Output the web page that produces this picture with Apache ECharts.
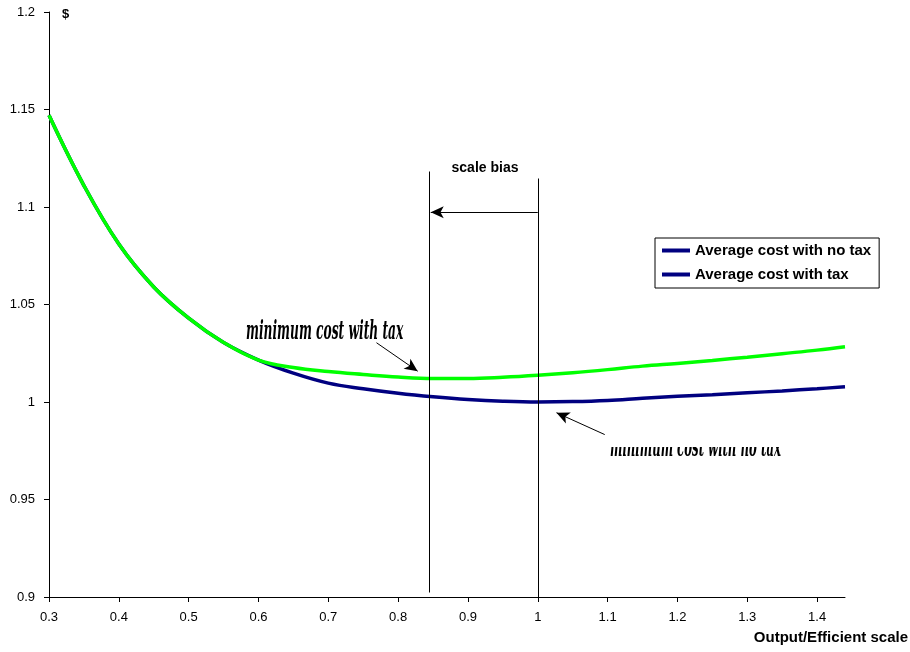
<!DOCTYPE html>
<html>
<head>
<meta charset="utf-8">
<script src="https://cdn.jsdelivr.net/npm/echarts@6/dist/echarts.min.js"></script>
<style>
  html, body { margin: 0; padding: 0; background: #fff; }
  #chart { width: 910px; height: 652px; }
</style>
</head>
<body>
<div id="chart"></div>
<script>
// values
var outputs = [0.3, 0.35, 0.4, 0.45, 0.5, 0.55, 0.6, 0.65, 0.7, 0.75, 0.8, 0.85, 0.9, 0.95,
               1.0, 1.05, 1.1, 1.15, 1.2, 1.25, 1.3, 1.35, 1.4, 1.44];
var costNoTax = [1.147, 1.111, 1.081, 1.059, 1.043, 1.0305, 1.0215, 1.0148, 1.0097, 1.0068, 1.0045, 1.0027, 1.0013, 1.0004,
                 1.0, 1.0002, 1.0008, 1.0019, 1.0029, 1.0037, 1.0047, 1.0057, 1.0068, 1.0078];
var costWithTax = [1.147, 1.111, 1.081, 1.059, 1.043, 1.0305, 1.0215, 1.0177, 1.0156, 1.0141, 1.0128, 1.0121, 1.0121, 1.0127,
                   1.0137, 1.015, 1.0166, 1.0184, 1.0198, 1.0213, 1.023, 1.0248, 1.0266, 1.0283];
var xTicks = [0.3, 0.4, 0.5, 0.6, 0.7, 0.8, 0.9, 1.0, 1.1, 1.2, 1.3, 1.4];

// annotation lines in data units
var biasLeft = 0.845, biasRight = 1.0;
var biasArrowY = 1.0973;

function pairs(xs, ys) {
    return xs.map(function (x, i) { return [x, ys[i]]; });
}

var chart = echarts.init(document.getElementById('chart'));
var thinLine = { color: '#000', width: 1, type: 'solid' };
var head = { symbol: 'arrow', symbolSize: [9, 13] };
var noteFont = 'italic bold 26px "DejaVu Serif"';

chart.setOption({
    animation: false,
    backgroundColor: '#fff',
    grid: { left: 49, right: 65, top: 12, bottom: 55 },
    legend: {
        orient: 'vertical',
        left: 655,
        top: 238,
        padding: [4, 8, 5, 7],
        itemGap: 7,
        itemWidth: 28,
        itemHeight: 4,
        icon: 'rect',
        borderColor: '#000',
        borderWidth: 1,
        textStyle: { fontFamily: 'Liberation Sans', fontWeight: 'bold', fontSize: 15, color: '#000', lineHeight: 17 },
        data: [
            { name: 'Average cost with no tax', itemStyle: { color: '#000080' } },
            { name: 'Average cost with tax', itemStyle: { color: '#000080' } }
        ]
    },
    xAxis: {
        type: 'value',
        min: 0.3,
        max: 1.44,
        interval: 0.1,
        splitLine: { show: false },
        axisLine: { lineStyle: { color: '#000', width: 1 } },
        axisTick: { customValues: xTicks, length: 5, lineStyle: { color: '#000' } },
        axisLabel: { customValues: xTicks, margin: 14, color: '#000', fontFamily: 'Liberation Sans', fontSize: 13 }
    },
    yAxis: {
        type: 'value',
        min: 0.9,
        max: 1.2,
        interval: 0.05,
        splitLine: { show: false },
        axisLine: { show: true, lineStyle: { color: '#000', width: 1 } },
        axisTick: { show: true, length: 5, lineStyle: { color: '#000' } },
        axisLabel: { margin: 14, color: '#000', fontFamily: 'Liberation Sans', fontSize: 13 }
    },
    series: [
        {
            name: 'Average cost with no tax',
            type: 'line',
            smooth: 0.4,
            showSymbol: false,
            data: pairs(outputs, costNoTax),
            lineStyle: { color: '#000080', width: 3.5 },
            itemStyle: { color: '#000080' },
            markLine: {
                silent: true,
                symbol: 'none',
                label: { show: false },
                lineStyle: thinLine,
                data: [
                    [{ coord: [biasLeft, 1.1182] }, { coord: [biasLeft, 0.9023] }],
                    [{ coord: [biasRight, 1.1146] }, { coord: [biasRight, 0.9] }],
                    [{ coord: [biasRight, biasArrowY], symbol: 'none' }, Object.assign({ coord: [0.8467, biasArrowY] }, head)],
                    [{ coord: [0.769, 1.0304], symbol: 'none' }, Object.assign({ coord: [0.828, 1.0158] }, head)],
                    [{ coord: [1.0959, 0.9833], symbol: 'none' }, Object.assign({ coord: [1.0268, 0.9945] }, head)]
                ]
            }
        },
        {
            name: 'Average cost with tax',
            type: 'line',
            smooth: 0.4,
            showSymbol: false,
            data: pairs(outputs, costWithTax),
            lineStyle: { color: '#00ff00', width: 3.5 },
            itemStyle: { color: '#00ff00' }
        }
    ],
    graphic: [
        { type: 'text', x: 62, y: 14, style: { text: '$', font: 'bold 13px "Liberation Sans"', fill: '#000', textVerticalAlign: 'middle' } },
        { type: 'text', x: 485, y: 168, style: { text: 'scale bias', font: 'bold 14px "Liberation Sans"', fill: '#000', textAlign: 'center', textVerticalAlign: 'middle' } },
        { type: 'text', x: 908, y: 638, style: { text: 'Output/Efficient scale', font: 'bold 15px "Liberation Sans"', fill: '#000', textAlign: 'right', textVerticalAlign: 'middle' } },
        { type: 'text', x: 246, y: 345, scaleX: 0.47, style: { text: 'minimum cost with tax', font: noteFont, fill: '#000', textVerticalAlign: 'bottom' } },
        { type: 'text', x: 610, y: 462, scaleX: 0.45, style: { text: 'minimum cost with no tax', font: noteFont, fill: '#000', textVerticalAlign: 'bottom' } },
        { type: 'rect', z: 100, shape: { x: 608, y: 428, width: 190, height: 19 }, style: { fill: '#fff' } }
    ]
});
</script>
</body>
</html>
